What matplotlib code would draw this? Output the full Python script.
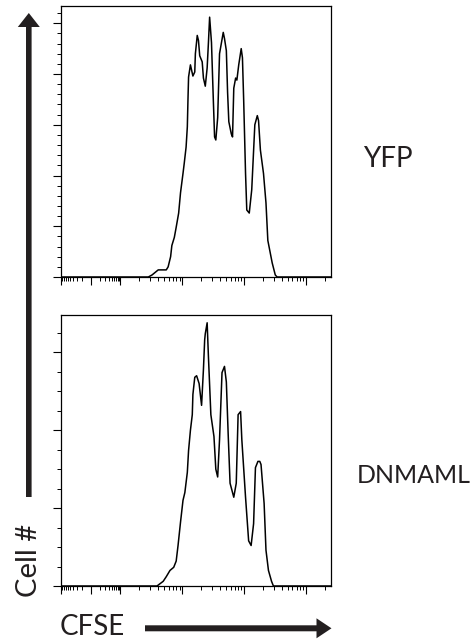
import numpy as np
import matplotlib
matplotlib.use('Agg')
import matplotlib.pyplot as plt
from matplotlib.patches import FancyArrow
from matplotlib.ticker import FixedLocator, NullFormatter

# CFSE histograms, x in log10(CFSE intensity), y in events per bin
yfp_logcfse = [1.04, 2.45, 2.51, 2.57, 2.61, 2.74, 2.77, 2.81, 2.83, 2.87, 2.90, 2.94,
               2.97, 3.01, 3.03, 3.06, 3.08, 3.09, 3.10, 3.13, 3.17, 3.20, 3.21, 3.24,
               3.26, 3.28, 3.32, 3.34, 3.37, 3.40, 3.42, 3.44, 3.47, 3.50, 3.52, 3.54,
               3.57, 3.60, 3.66, 3.68, 3.71, 3.73, 3.75, 3.79, 3.81, 3.83, 3.86, 3.88,
               3.91, 3.95, 3.97, 3.99, 4.02, 4.04, 4.08, 4.12, 4.17, 4.21, 4.23, 4.26,
               4.31, 4.35, 4.38, 4.45, 4.50, 4.53, 5.40]
yfp_count = [0, 0, 2, 5, 7, 7, 10, 20, 31, 39, 49, 63,
             83, 102, 112, 128, 148, 174, 197, 209, 198, 202, 220, 238,
             233, 218, 212, 196, 188, 206, 230, 256, 231, 174, 138, 135,
             157, 220, 241, 235, 223, 182, 153, 141, 138, 186, 196, 194,
             209, 225, 216, 174, 102, 66, 63, 86, 150, 159, 154, 125,
             102, 73, 36, 14, 2, 0, 0]

dn_logcfse = [1.04, 2.59, 2.69, 2.74, 2.80, 2.86, 2.90, 2.93, 2.97, 3.01, 3.04, 3.08,
              3.10, 3.13, 3.16, 3.17, 3.20, 3.23, 3.27, 3.31, 3.34, 3.36, 3.37, 3.40,
              3.42, 3.46, 3.51, 3.54, 3.57, 3.60, 3.64, 3.68, 3.71, 3.74, 3.77, 3.83,
              3.87, 3.90, 3.94, 3.96, 4.02, 4.07, 4.11, 4.15, 4.18, 4.22, 4.25, 4.27,
              4.32, 4.35, 4.39, 4.44, 4.47, 5.40]
dn_count = [0, 0, 3, 6, 10, 12, 16, 26, 41, 55, 60, 73,
            87, 100, 110, 123, 134, 135, 130, 116, 139, 158, 162, 169,
            148, 110, 96, 75, 70, 94, 137, 141, 131, 97, 66, 57,
            66, 110, 112, 94, 57, 29, 26, 40, 76, 80, 80, 78,
            53, 23, 10, 3, 0, 0]

panel_labels = ['YFP', 'DNMAML']
x_label = 'CFSE'
y_label = 'Cell #'

ink = '#231f20'
font = ['Lato', 'DejaVu Sans']
W, H = 477, 644

fig = plt.figure(figsize=(W / 100, H / 100), dpi=100)


def px_rect(left, top, right, bottom):
    return [left / W, 1 - bottom / H, (right - left) / W, (bottom - top) / H]


# biexponential-looking x ticks: compressed region below 10^2, log decades above
c, w = 1.52, 0.48
left_major = [c - w, c]
left_minor = [c + s * w * np.log10(k) for s in (-1, 1) for k in range(2, 10)]
dec_minor = [np.log10(m * 10.0 ** e) for e in range(2, 6) for m in range(2, 10)]
x_major = [10 ** v for v in left_major + [2, 3, 4, 5]]
x_minor = [10 ** v for v in left_minor + dec_minor if v < 5.4]


def style_panel(ax, ytop, ymajor, yminor):
    ax.set_xscale('log')
    ax.set_xlim(10 ** 1.04, 10 ** 5.4)
    ax.set_ylim(0, ytop)
    ax.xaxis.set_major_locator(FixedLocator(x_major))
    ax.xaxis.set_minor_locator(FixedLocator(x_minor))
    ax.yaxis.set_major_locator(FixedLocator(np.arange(0, ytop, ymajor)))
    ax.yaxis.set_minor_locator(FixedLocator(np.arange(0, ytop, yminor)))
    for axis in (ax.xaxis, ax.yaxis):
        axis.set_major_formatter(NullFormatter())
        axis.set_minor_formatter(NullFormatter())
    ax.tick_params(which='major', direction='out', length=5.5, width=0.8, color='black')
    ax.tick_params(which='minor', direction='out', length=3, width=0.7, color='black')
    ax.tick_params(top=False, right=False)
    for sp in ax.spines.values():
        sp.set_linewidth(0.9)
        sp.set_color('black')


ax1 = fig.add_axes(px_rect(61, 6, 331, 277))
ax1.plot(10 ** np.array(yfp_logcfse), yfp_count, color='black', lw=1.1)
style_panel(ax1, 267, 50, 10)

ax2 = fig.add_axes(px_rect(61, 315, 331, 586))
ax2.plot(10 ** np.array(dn_logcfse), dn_count, color='black', lw=1.1)
style_panel(ax2, 174, 50, 12.5)

# overlay in pixel units for arrows and labels
ov = fig.add_axes([0, 0, 1, 1], zorder=-1)
ov.set_xlim(0, W)
ov.set_ylim(H, 0)
ov.axis('off')

ov.add_patch(FancyArrow(28.8, 497, 0, 13 - 497, width=5.6, head_width=22,
                        head_length=14, length_includes_head=True,
                        color=ink, lw=0))
ov.add_patch(FancyArrow(145, 628.3, 331.5 - 145, 0, width=6, head_width=20,
                        head_length=15, length_includes_head=True,
                        color=ink, lw=0))

ov.text(362.7, 167.3, panel_labels[0], family=font, fontsize=20, color=ink,
        ha='left', va='baseline')
ov.text(357, 482.7, panel_labels[1], family=font, fontsize=18, color=ink,
        ha='left', va='baseline')
ov.text(60, 635, x_label, family=font, fontsize=20, color=ink,
        ha='left', va='baseline')
ov.text(37, 597, y_label, family=font, fontsize=21, color=ink, rotation=90,
        rotation_mode='anchor', ha='left', va='baseline')

plt.savefig('out.png', dpi=100)
